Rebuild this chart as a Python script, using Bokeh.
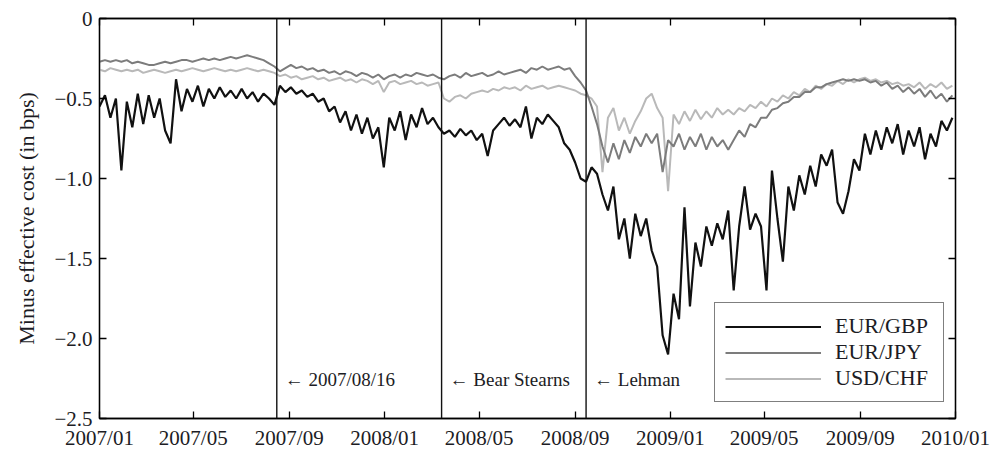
import pandas as pd
from bokeh.plotting import figure
from bokeh.models import (ColumnDataSource, FixedTicker, DatetimeTickFormatter,
                          DatetimeAxis, LinearAxis, Range1d, Span, Label,
                          Legend, LegendItem)
from bokeh.embed import file_html
from bokeh.resources import INLINE

# Weekly observations of minus effective cost (bps), starting 2007-01-01
start_date = "2007-01-01"

eur_gbp = [
    -0.55, -0.48, -0.62, -0.50, -0.95, -0.52, -0.68, -0.47, -0.66, -0.48,
    -0.62, -0.50, -0.70, -0.78, -0.38, -0.58, -0.44, -0.52, -0.42, -0.55,
    -0.44, -0.50, -0.43, -0.49, -0.45, -0.50, -0.44, -0.50, -0.46, -0.52,
    -0.47, -0.50, -0.54,
    -0.42, -0.46, -0.43, -0.47, -0.45, -0.49, -0.47, -0.52, -0.50, -0.58,
    -0.55, -0.65, -0.58, -0.70, -0.60, -0.72, -0.62, -0.75, -0.68, -0.93,
    -0.62, -0.70, -0.58, -0.76, -0.60, -0.68, -0.56, -0.66, -0.62, -0.68,
    -0.72, -0.70, -0.74, -0.69, -0.73, -0.70, -0.76, -0.72, -0.86, -0.70,
    -0.66, -0.62, -0.67, -0.63, -0.68, -0.55, -0.75, -0.62, -0.66, -0.60,
    -0.64, -0.68, -0.78, -0.82, -0.90, -1.00,
    -1.02, -0.93, -0.97, -1.10, -1.20, -1.05, -1.38, -1.25, -1.50, -1.22,
    -1.36, -1.25, -1.45, -1.55, -1.98, -2.10, -1.72, -1.88, -1.18, -1.80,
    -1.40, -1.55, -1.30, -1.42, -1.28, -1.38, -1.20,
    -1.70, -1.30, -1.05, -1.32, -1.22, -1.30, -1.70, -0.95, -1.25, -1.52,
    -1.05, -1.20, -0.98, -1.10, -0.92, -1.05, -0.85, -0.92, -0.82, -1.15,
    -1.22, -1.08, -0.88, -0.95,
    -0.72, -0.85, -0.70, -0.82, -0.68, -0.78, -0.66, -0.85, -0.70, -0.80,
    -0.68, -0.88, -0.72, -0.80, -0.64, -0.70, -0.62,
]

eur_jpy = [
    -0.27, -0.26, -0.27, -0.26, -0.27, -0.26, -0.28, -0.27, -0.28, -0.29,
    -0.29, -0.28, -0.27, -0.28, -0.27, -0.26, -0.26, -0.27, -0.26, -0.25,
    -0.26, -0.25, -0.26, -0.25, -0.24, -0.25, -0.24, -0.23, -0.24, -0.25,
    -0.26, -0.28, -0.30,
    -0.33, -0.31, -0.29, -0.31, -0.30, -0.32, -0.31, -0.33, -0.32, -0.34,
    -0.33, -0.35, -0.33, -0.34, -0.36, -0.34, -0.35, -0.37, -0.35, -0.38,
    -0.36, -0.35, -0.37, -0.35, -0.36, -0.34, -0.35, -0.36, -0.35, -0.37,
    -0.38, -0.36, -0.35, -0.37, -0.34, -0.36, -0.35, -0.34, -0.36, -0.35,
    -0.33, -0.35, -0.34, -0.33, -0.32, -0.34, -0.31, -0.32, -0.30, -0.32,
    -0.31, -0.30, -0.32, -0.31, -0.36, -0.40,
    -0.45, -0.55, -0.66, -0.80, -0.90, -0.78, -0.88, -0.76, -0.84, -0.74,
    -0.80, -0.72, -0.78, -0.72, -0.96, -0.76, -0.80, -0.72, -0.82, -0.74,
    -0.80, -0.72, -0.82, -0.74, -0.80, -0.76, -0.82,
    -0.76, -0.70, -0.74, -0.66, -0.68, -0.62, -0.62, -0.57, -0.56, -0.53,
    -0.52, -0.49, -0.49, -0.46, -0.46, -0.43, -0.43, -0.41, -0.40, -0.39,
    -0.38, -0.39, -0.38, -0.39,
    -0.38, -0.40, -0.39, -0.42, -0.40, -0.44, -0.42, -0.46, -0.43, -0.47,
    -0.44, -0.49, -0.45, -0.50, -0.47, -0.52, -0.48,
]

usd_chf = [
    -0.32, -0.33, -0.31, -0.32, -0.33, -0.32, -0.33, -0.32, -0.34, -0.33,
    -0.32, -0.33, -0.34, -0.33, -0.32, -0.33, -0.32, -0.31, -0.32, -0.33,
    -0.32, -0.31, -0.32, -0.33, -0.32, -0.33, -0.32, -0.31, -0.32, -0.33,
    -0.32, -0.33, -0.34,
    -0.36, -0.35, -0.37, -0.36, -0.38, -0.37, -0.36, -0.38, -0.37, -0.39,
    -0.38, -0.37, -0.39, -0.38, -0.40, -0.38, -0.39, -0.41, -0.39, -0.46,
    -0.40, -0.39, -0.41, -0.40, -0.39, -0.41, -0.40, -0.42, -0.41, -0.40,
    -0.50, -0.52, -0.49, -0.48, -0.50, -0.47, -0.46, -0.45, -0.46, -0.44,
    -0.45, -0.43, -0.44, -0.43, -0.45, -0.42, -0.44, -0.43, -0.42, -0.44,
    -0.43, -0.42, -0.43, -0.44, -0.45, -0.47,
    -0.48, -0.50, -0.55, -0.96, -0.62, -0.56, -0.70, -0.62, -0.72, -0.64,
    -0.58, -0.50, -0.47, -0.56, -0.62, -1.08, -0.60, -0.66, -0.58, -0.64,
    -0.57, -0.63, -0.58, -0.62, -0.56, -0.60, -0.57,
    -0.60, -0.56, -0.58, -0.54, -0.56, -0.52, -0.55, -0.50, -0.52, -0.48,
    -0.50, -0.46, -0.48, -0.44, -0.46, -0.42, -0.44, -0.41, -0.42, -0.39,
    -0.41, -0.38, -0.40, -0.38,
    -0.37, -0.39, -0.38, -0.40, -0.39, -0.41, -0.40, -0.42, -0.41, -0.43,
    -0.40, -0.44, -0.41, -0.43, -0.40, -0.44, -0.42,
]

series_names = ["EUR/GBP", "EUR/JPY", "USD/CHF"]
series_values = [eur_gbp, eur_jpy, usd_chf]
series_colors = ["#111111", "#7c7c7c", "#b9b9b9"]

event_dates = ["2007-08-16", "2008-03-14", "2008-09-15"]
event_labels = ["\u2190 2007/08/16", "\u2190 Bear Stearns", "\u2190 Lehman"]
event_label_y = -2.255

x_tick_dates = pd.date_range("2007-01-01", "2010-01-01", freq="4MS")
y_ticks = [0.0, -0.5, -1.0, -1.5, -2.0, -2.5]
y_tick_labels = ["0", "\u22120.5", "\u22121.0", "\u22121.5", "\u22122.0", "\u22122.5"]

FONT = "Liberation Serif"
TXT = "#1c1c24"


def ms(d):
    return pd.Timestamp(d).value / 1e6


x_tick_ms = [ms(d) for d in x_tick_dates]

p = figure(width=1000, height=454, x_axis_type="datetime",
           output_backend="svg", toolbar_location=None,
           x_range=Range1d(ms("2007-01-01"), ms("2010-01-01")),
           y_range=Range1d(-2.5, 0.0),
           min_border_left=99, min_border_right=45,
           min_border_top=18, min_border_bottom=36)
p.grid.visible = False
p.outline_line_color = "black"
p.outline_line_width = 1.3
p.background_fill_color = "white"
p.border_fill_color = "white"

x_ticker = FixedTicker(ticks=x_tick_ms)
x_fmt = DatetimeTickFormatter(days="%Y/%m", months="%Y/%m", years="%Y/%m")
y_ticker = FixedTicker(ticks=y_ticks)
y_over = {t: s for t, s in zip(y_ticks, y_tick_labels)}


def style_axis(ax):
    ax.axis_line_color = "black"
    ax.axis_line_width = 1.3
    ax.major_tick_in = 7
    ax.major_tick_out = 0
    ax.major_tick_line_width = 1.3
    ax.major_tick_line_color = "black"
    ax.minor_tick_line_color = None
    ax.major_label_text_font = FONT
    ax.major_label_text_color = TXT
    ax.major_label_text_font_size = "21px"


xa = p.xaxis[0]
xa.ticker = x_ticker
xa.formatter = x_fmt
xa.major_label_standoff = 7
style_axis(xa)

ya = p.yaxis[0]
ya.ticker = y_ticker
ya.major_label_overrides = y_over
ya.major_label_standoff = 7
ya.axis_label = "Minus effective cost (in bps)"
ya.axis_label_text_font = FONT
ya.axis_label_text_font_style = "normal"
ya.axis_label_text_font_size = "22px"
ya.axis_label_text_color = TXT
ya.axis_label_standoff = 12
style_axis(ya)

# mirrored tick marks on the top and right edges, without labels
top = DatetimeAxis(ticker=x_ticker, formatter=x_fmt,
                   major_label_overrides={t: "" for t in x_tick_ms})
style_axis(top)
top.major_label_standoff = 0
p.add_layout(top, "above")
right = LinearAxis(ticker=y_ticker,
                   major_label_overrides={t: "" for t in y_ticks})
style_axis(right)
right.major_label_standoff = 0
p.add_layout(right, "right")

renderers = {}
for name, vals, col in reversed(list(zip(series_names, series_values, series_colors))):
    src = ColumnDataSource(dict(
        date=pd.date_range(start_date, periods=len(vals), freq="7D"),
        value=vals))
    renderers[name] = p.line("date", "value", source=src, line_color=col,
                             line_width=2.2 if name == "EUR/GBP" else 2.0)

for d, lab in zip(event_dates, event_labels):
    p.add_layout(Span(location=ms(d), dimension="height",
                      line_color="#111111", line_width=1.4))
    p.add_layout(Label(x=ms(d), y=event_label_y, text=lab, x_offset=8,
                       text_baseline="middle", text_font=FONT,
                       text_font_size="19px", text_color=TXT))

legend = Legend(items=[LegendItem(label=n, renderers=[renderers[n]])
                       for n in series_names],
                location=(615, 16))
legend.border_line_color = "black"
legend.border_line_width = 1.5
legend.background_fill_alpha = 1.0
legend.padding = 10
legend.spacing = 0
legend.margin = 0
legend.glyph_width = 96
legend.glyph_height = 23
legend.label_standoff = 14
legend.label_text_font = FONT
legend.label_text_font_size = "22px"
legend.label_text_color = TXT
legend.label_height = 23
legend.label_width = 98
p.add_layout(legend, "center")

open("out.html", "w").write(file_html(p, INLINE))
